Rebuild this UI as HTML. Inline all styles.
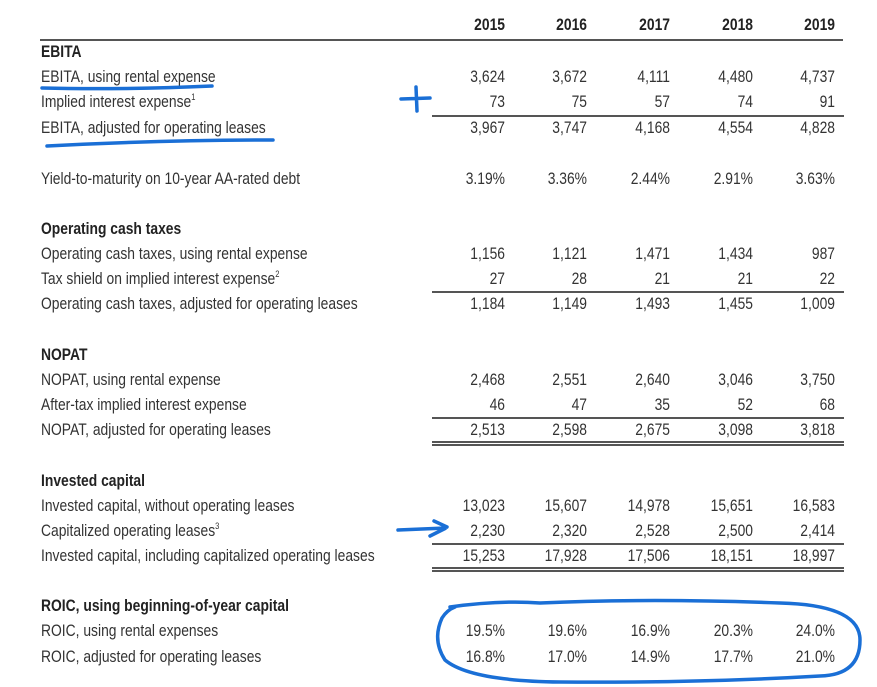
<!DOCTYPE html>
<html><head><meta charset="utf-8"><style>
body{margin:0;background:#fff;width:877px;height:687px;overflow:hidden;position:relative;font-family:"Liberation Sans",sans-serif;color:#333}
.t{position:absolute;height:20px;line-height:20px;font-size:16.5px;white-space:nowrap}
.l{left:41px;transform:scaleX(.84);transform-origin:left center}
.n{transform:scaleX(.84);transform-origin:right center;text-align:right;width:100px}
.b{font-weight:bold;color:#222}
.hl{position:absolute;background:#555;height:1.5px}
sup{font-size:9px;line-height:0;vertical-align:baseline;position:relative;top:-7px}
</style></head><body>
<div class="hl" style="left:40px;top:39px;width:803px;height:2px"></div>
<div id="c"></div>
<svg width="877" height="687" style="position:absolute;left:0;top:0" fill="none" stroke="#1a6fd6" stroke-linecap="round">
<path d="M42 88 Q120 90 212 86" stroke-width="3.5"/>
<path d="M47 146 Q160 140 273 140" stroke-width="3.5"/>
<path d="M401 99 L430 98 M416 87 L417 111" stroke-width="3.5"/>
<path d="M398 530 Q420 529 446 528 L430 536 M434 521 L447 527" stroke-width="3.5"/>
<path d="M450 607 Q500 600 540 603 Q650 598 780 603 Q860 605 860 640 Q860 675 820 676 Q700 683 560 682 Q470 681 445 660 Q432 640 442 618 Q447 610 455 607" stroke-width="3.5"/>
</svg>
<script>
var H='';
function lab(y,t,b){H+='<div class="t l'+(b?' b':'')+'" style="top:'+(y-10)+'px">'+t+'</div>';}
var R=[505,587,670,753,835];
function row(y,v,b){v.forEach(function(s,i){H+='<div class="t n'+(b?' b':'')+'" style="left:'+(R[i]-100)+'px;top:'+(y-10)+'px">'+s+'</div>';});}
function line(y){H+='<div class="hl" style="left:432px;top:'+y+'px;width:412px"></div>';}
row(25,['2015','2016','2017','2018','2019'],1);
lab(52,'EBITA',1);
lab(77,'EBITA, using rental expense');row(77,['3,624','3,672','4,111','4,480','4,737']);
lab(102,'Implied interest expense<sup>1</sup>');row(102,['73','75','57','74','91']);line(115);
lab(128,'EBITA, adjusted for operating leases');row(128,['3,967','3,747','4,168','4,554','4,828']);
lab(179,'Yield-to-maturity on 10-year AA-rated debt');row(179,['3.19%','3.36%','2.44%','2.91%','3.63%']);
lab(229,'Operating cash taxes',1);
lab(254,'Operating cash taxes, using rental expense');row(254,['1,156','1,121','1,471','1,434','987']);
lab(279,'Tax shield on implied interest expense<sup>2</sup>');row(279,['27','28','21','21','22']);line(291);
lab(304,'Operating cash taxes, adjusted for operating leases');row(304,['1,184','1,149','1,493','1,455','1,009']);
lab(355,'NOPAT',1);
lab(380,'NOPAT, using rental expense');row(380,['2,468','2,551','2,640','3,046','3,750']);
lab(405,'After-tax implied interest expense');row(405,['46','47','35','52','68']);line(417);
lab(430,'NOPAT, adjusted for operating leases');row(430,['2,513','2,598','2,675','3,098','3,818']);line(441);line(444);
lab(481,'Invested capital',1);
lab(506,'Invested capital, without operating leases');row(506,['13,023','15,607','14,978','15,651','16,583']);
lab(531,'Capitalized operating leases<sup>3</sup>');row(531,['2,230','2,320','2,528','2,500','2,414']);line(543);
lab(556,'Invested capital, including capitalized operating leases');row(556,['15,253','17,928','17,506','18,151','18,997']);line(567);line(570);
lab(606,'ROIC, using beginning-of-year capital',1);
lab(631,'ROIC, using rental expenses');row(631,['19.5%','19.6%','16.9%','20.3%','24.0%']);
lab(657,'ROIC, adjusted for operating leases');row(657,['16.8%','17.0%','14.9%','17.7%','21.0%']);
document.getElementById('c').innerHTML=H;
</script>
</body></html>
